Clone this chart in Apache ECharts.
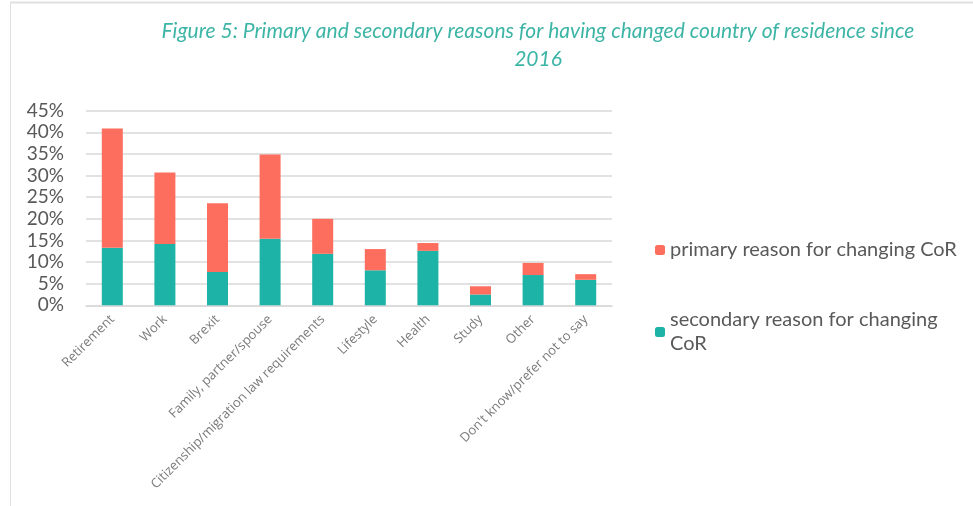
<!DOCTYPE html>
<html><head><meta charset="utf-8">
<script src="https://cdn.jsdelivr.net/npm/echarts@6/dist/echarts.min.js"></script>
<style>html,body{margin:0;padding:0;background:#fff}#c{width:973px;height:506px}</style>
</head><body><div id="c"></div>
<script>
const categories = ['Retirement','Work','Brexit','Family, partner/spouse','Citizenship/migration law requirements','Lifestyle','Health','Study','Other',"Don't know/prefer not to say"];
const secondaryValues = [13.3, 14.2, 7.7, 15.4, 11.9, 8.1, 12.6, 2.5, 7.0, 5.9];
const primaryValues = [27.6, 16.5, 15.9, 19.5, 8.1, 4.9, 1.8, 1.9, 2.8, 1.3];
const yTicks = [0, 5, 10, 15, 20, 25, 30, 35, 40, 45];
const primaryName = 'primary reason for changing CoR';
const secondaryName = 'secondary reason for changing CoR';

const chart = echarts.init(document.getElementById('c'));
const gray = '#595959';
chart.setOption({
  animation: false,
  title: {
    text: 'Figure 5: Primary and secondary reasons for having changed country of residence since\n2016',
    left: 533, top: 12, textAlign: 'center',
    textStyle: { color: '#3DB5A6', fontStyle: 'italic', fontWeight: 'normal', fontSize: 21, fontFamily: 'Lato', lineHeight: 28 }
  },
  graphic: [
    { type: 'line', shape: { x1: 10, y1: 2.5, x2: 973, y2: 2.5 }, style: { stroke: '#e0e0e0', lineWidth: 2 } },
    { type: 'line', shape: { x1: 10.5, y1: 2, x2: 10.5, y2: 506 }, style: { stroke: '#e0e0e0', lineWidth: 1 } }
  ],
  legend: [
    {
      data: [primaryName], orient: 'vertical', left: 650, top: 233,
      itemWidth: 10, itemHeight: 10, itemGap: 8,
      textStyle: { color: gray, fontSize: 20, fontFamily: 'Lato', lineHeight: 24 }
    },
    {
      data: [secondaryName], orient: 'vertical', left: 650, top: 303,
      itemWidth: 10, itemHeight: 10, itemGap: 8,
      formatter: () => 'secondary reason for changing\nCoR',
      textStyle: { color: gray, fontSize: 20, fontFamily: 'Lato', lineHeight: 24 }
    }
  ],
  grid: { left: 86, right: 361, top: 110.7, bottom: 200.7, containLabel: false },
  xAxis: {
    type: 'category', data: categories,
    axisLine: { lineStyle: { color: '#d9d9d9', width: 1.5 } },
    axisTick: { show: false },
    axisLabel: { rotate: 45, color: '#7a7a7a', fontSize: 13, fontFamily: 'Open Sans', margin: 12, interval: 0 }
  },
  yAxis: {
    type: 'value', min: yTicks[0], max: yTicks[yTicks.length - 1], interval: 5,
    axisLine: { show: false }, axisTick: { show: false },
    axisLabel: { formatter: '{value}%', color: gray, fontSize: 19, fontFamily: 'Lato', margin: 22 },
    splitLine: { lineStyle: { color: '#d9d9d9', width: 1.5 } }
  },
  series: [
    { name: secondaryName, type: 'bar', stack: 's', data: secondaryValues, barWidth: 21, itemStyle: { color: '#1DB3A6' } },
    { name: primaryName, type: 'bar', stack: 's', data: primaryValues, barWidth: 21, itemStyle: { color: '#FE6E5E' } }
  ]
});
</script></body></html>
